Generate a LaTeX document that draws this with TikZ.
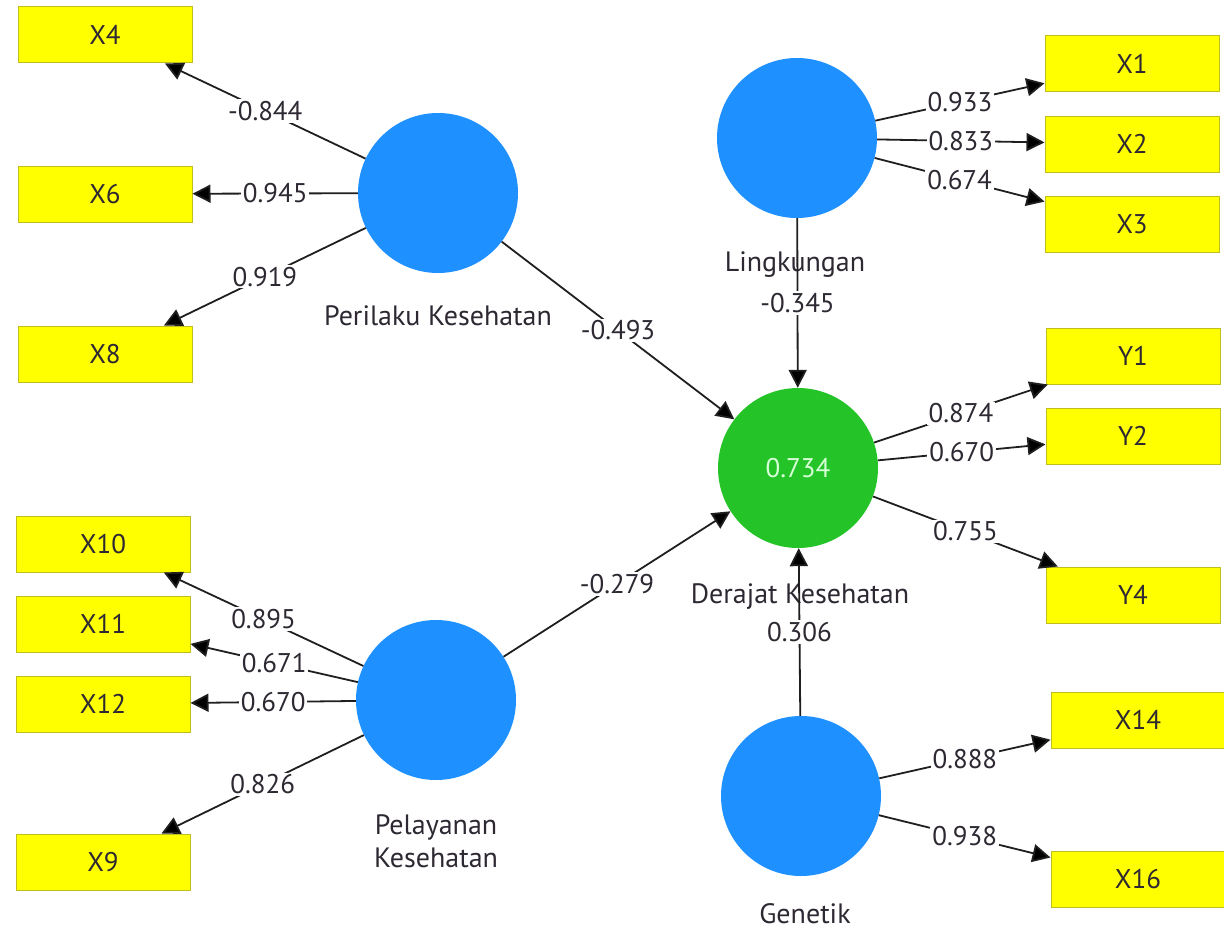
\documentclass[tikz,border=0pt]{standalone}
\usepackage{fontspec}
\setmainfont{PT Sans}
\usetikzlibrary{arrows.meta}
\definecolor{lvblue}{RGB}{30,144,255}
\definecolor{lvgreen}{RGB}{36,196,40}
\definecolor{indyellow}{RGB}{255,255,0}
\definecolor{indedge}{RGB}{190,190,30}
\definecolor{txt}{RGB}{45,40,50}
\begin{document}
\begin{tikzpicture}[x=1pt,y=-1pt,
  latent/.style={circle, minimum size=160pt, inner sep=0pt, fill=lvblue},
  indicator/.style={rectangle, minimum width=174pt, minimum height=56pt, inner sep=0pt,
    fill=indyellow, draw=indedge, line width=1pt, font=\fontsize{27}{30}\selectfont, text=txt},
  cname/.style={font=\fontsize{28}{33}\selectfont, text=txt, align=center},
  link/.style={draw=black!88, line width=1.8pt, -{Triangle[length=18pt,width=18pt,fill=black]}},
  wt/.style={fill=white, inner sep=2pt, font=\fontsize{27}{30}\selectfont, text=txt},
]
\useasboundingbox (0,0) rectangle (1224,934);

% latent variables
\node[latent] (PK) at (438,193) {};
\node[latent] (LK) at (797,138) {};
\node[latent, fill=lvgreen, text={rgb,255:red,215;green,255;blue,215},
      font=\fontsize{27}{30}\selectfont] (DK) at (798,468) {0.734};
\node[latent] (PL) at (436,700) {};
\node[latent] (GN) at (801,796) {};

% construct names
\node[cname] (nPK) at (438,316) {Perilaku Kesehatan};
\node[cname] (nLK) at (795,265) {Lingkungan};
\node[cname] (nDK) at (800,597) {Derajat Kesehatan};
\node[cname] (nPL) at (436,841) {Pelayanan\\Kesehatan};
\node[cname] (nGN) at (805,914) {Genetik};

% indicators, left
\node[indicator] (X4)  at (105,35)  {X4};
\node[indicator] (X6)  at (105,194) {X6};
\node[indicator] (X8)  at (105,354) {X8};
\node[indicator] (X10) at (103,544) {X10};
\node[indicator] (X11) at (103,624) {X11};
\node[indicator] (X12) at (103,704) {X12};
\node[indicator] (X9)  at (103,862) {X9};

% indicators, right
\node[indicator] (X1)  at (1132,64)  {X1};
\node[indicator] (X2)  at (1132,144) {X2};
\node[indicator] (X3)  at (1132,224) {X3};
\node[indicator] (Y1)  at (1133,356) {Y1};
\node[indicator] (Y2)  at (1133,436) {Y2};
\node[indicator] (Y4)  at (1133,595) {Y4};
\node[indicator] (X14) at (1138,720) {X14};
\node[indicator] (X16) at (1138,879) {X16};

% outer loadings
\draw[link] (PK) -- node[wt] {-0.844} (X4);
\draw[link] (PK) -- node[wt] {0.945} (X6);
\draw[link] (PK) -- node[wt] {0.919} (X8);

\draw[link] (LK) -- node[wt] {0.933} (X1);
\draw[link] (LK) -- node[wt] {0.833} (X2);
\draw[link] (LK) -- node[wt] {0.674} (X3);

\draw[link] (DK) -- node[wt] {0.874} (Y1);
\draw[link] (DK) -- node[wt] {0.670} (Y2);
\draw[link] (DK) -- node[wt] {0.755} (Y4);

\draw[link] (PL) -- node[wt] {0.895} (X10);
\draw[link] (PL) -- node[wt] {0.671} (X11);
\draw[link] (PL) -- node[wt] {0.670} (X12);
\draw[link] (PL) -- node[wt] {0.826} (X9);

\draw[link] (GN) -- node[wt] {0.888} (X14);
\draw[link] (GN) -- node[wt] {0.938} (X16);

% path coefficients
\draw[link] (PK) -- node[wt] {-0.493} (DK);
\draw[link] (PL) -- node[wt] {-0.279} (DK);
\draw[link] (LK) -- node[wt] {-0.345} (DK);
\draw[link] (GN) -- node[wt] {0.306} (DK);
\end{tikzpicture}
\end{document}
